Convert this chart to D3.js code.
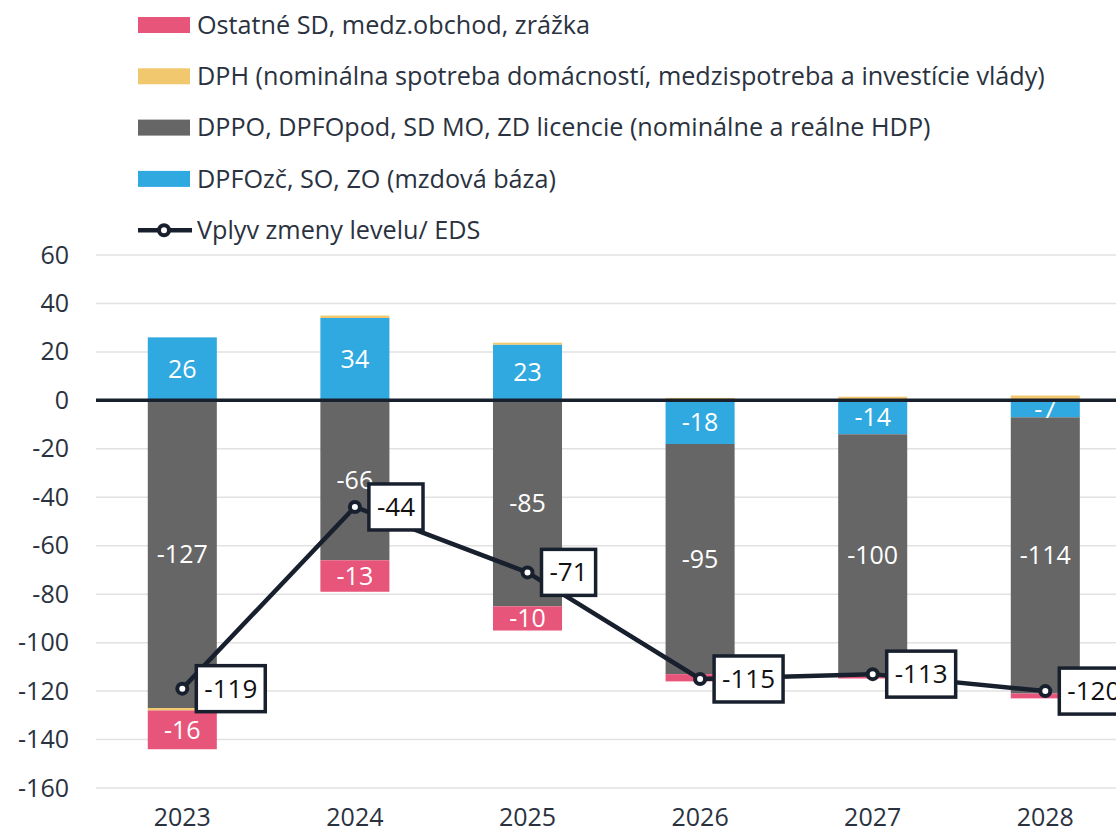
<!DOCTYPE html>
<html>
<head>
<meta charset="utf-8">
<script src="https://cdn.jsdelivr.net/npm/d3@7"></script>
<style>
  body { margin: 0; background: #fff; }
  svg { display: block; font-family: "Open Sans", sans-serif; }
</style>
</head>
<body>
<div id="chart"></div>
<script>
// data
const years = ["2023", "2024", "2025", "2026", "2027", "2028"];
const mzdy = [26, 34, 23, -18, -14, -7];          // DPFOzč, SO, ZO
const hdp = [-127, -66, -85, -95, -100, -114];    // DPPO, DPFOpod, ...
const dph = [-1, 1, 0.8, 1, 1.5, 2];              // DPH
const ostatne = [-16, -13, -10, -3, -0.8, -2];    // Ostatné SD
const eds = [-119, -44, -71, -115, -113, -120];   // Vplyv zmeny levelu/ EDS
const yTicks = [60, 40, 20, 0, -20, -40, -60, -80, -100, -120, -140, -160];

const series = [
  { key: "mzdy", name: "DPFOzč, SO, ZO (mzdová báza)", color: "#2fa9e0", values: mzdy, minLabel: 0 },
  { key: "hdp", name: "DPPO, DPFOpod, SD MO, ZD licencie (nominálne a reálne HDP)", color: "#666666", values: hdp, minLabel: 0 },
  { key: "dph", name: "DPH (nominálna spotreba domácností, medzispotreba a investície vlády)", color: "#f2c86e", values: dph, minLabel: 99 },
  { key: "ost", name: "Ostatné SD, medz.obchod, zrážka", color: "#e8557a", values: ostatne, minLabel: 5 }
];

const W = 1116, H = 838;
const dark = "#18202e";
const textCol = "#2a3240";
const fmt = v => String(Math.round(v)); // plain hyphen, like the original

const svg = d3.select("#chart").append("svg")
  .attr("width", W)
  .attr("height", H);

const x = d3.scaleBand()
  .domain(years)
  .range([96, 1131.6])
  .paddingInner(0.6)
  .paddingOuter(0.3);

const y = d3.scaleLinear()
  .domain([60, -160])
  .range([255, 788]);

// gridlines
svg.append("g")
  .selectAll("line")
  .data(yTicks)
  .join("line")
  .attr("x1", 96).attr("x2", W)
  .attr("y1", d => y(d)).attr("y2", d => y(d))
  .attr("stroke", "#e2e2e2")
  .attr("stroke-width", 1.5);

// y axis labels
const yAxis = svg.append("g")
  .attr("transform", "translate(69,0)")
  .call(d3.axisLeft(y).tickValues(yTicks).tickFormat(fmt).tickSize(0).tickPadding(0));
yAxis.select(".domain").remove();
yAxis.selectAll("text")
  .attr("font-family", "Open Sans, sans-serif")
  .attr("font-size", 25)
  .attr("fill", textCol);

// x axis labels
const xAxis = svg.append("g")
  .attr("transform", "translate(0,808)")
  .call(d3.axisBottom(x).tickSize(0).tickPadding(0));
xAxis.select(".domain").remove();
xAxis.selectAll("text")
  .attr("font-family", "Open Sans, sans-serif")
  .attr("font-size", 25)
  .attr("fill", textCol);

// stacked bars
const table = years.map((yr, i) => {
  const row = { year: yr };
  series.forEach(s => row[s.key] = s.values[i]);
  return row;
});
const stacked = d3.stack()
  .keys(series.map(s => s.key))
  .offset(d3.stackOffsetDiverging)(table);

const layers = svg.append("g")
  .selectAll("g")
  .data(stacked)
  .join("g")
  .attr("fill", (d, i) => series[i].color);

layers.selectAll("rect")
  .data(d => d)
  .join("rect")
  .attr("x", d => x(d.data.year))
  .attr("width", x.bandwidth())
  .attr("y", d => y(Math.max(d[0], d[1])))
  .attr("height", d => Math.abs(y(d[0]) - y(d[1])));

// bar labels
stacked.forEach((layer, i) => {
  const s = series[i];
  svg.append("g")
    .selectAll("text")
    .data(layer.filter(d => Math.abs(d[1] - d[0]) >= s.minLabel && s.minLabel < 99))
    .join("text")
    .attr("x", d => x(d.data.year) + x.bandwidth() / 2)
    .attr("y", d => y((d[0] + d[1]) / 2))
    .attr("dy", "0.35em")
    .attr("text-anchor", "middle")
    .attr("font-size", 25)
    .attr("fill", "#fff")
    .text(d => fmt(d.data[layer.key]));
});

// zero line
svg.append("line")
  .attr("x1", 96).attr("x2", W)
  .attr("y1", y(0)).attr("y2", y(0))
  .attr("stroke", dark)
  .attr("stroke-width", 3.5);

// EDS line
const cx = d => x(d.year) + x.bandwidth() / 2;
const pts = years.map((yr, i) => ({ year: yr, v: eds[i] }));
svg.append("path")
  .datum(pts)
  .attr("fill", "none")
  .attr("stroke", dark)
  .attr("stroke-width", 4.5)
  .attr("stroke-linejoin", "round")
  .attr("d", d3.line().x(cx).y(d => y(d.v)));

svg.append("g")
  .selectAll("circle")
  .data(pts)
  .join("circle")
  .attr("cx", cx)
  .attr("cy", d => y(d.v))
  .attr("r", 5)
  .attr("fill", "#fff")
  .attr("stroke", dark)
  .attr("stroke-width", 4);

// callout labels
const callouts = svg.append("g")
  .selectAll("g")
  .data(pts)
  .join("g")
  .attr("transform", d => `translate(${cx(d) + 14},${y(d.v)})`);
callouts.append("text")
  .attr("x", 8)
  .attr("dy", "0.35em")
  .attr("font-size", 26)
  .attr("fill", "#111")
  .text(d => fmt(d.v));
callouts.insert("rect", "text")
  .attr("x", 0)
  .attr("y", -23)
  .attr("height", 46)
  .attr("width", function () {
    return this.parentNode.querySelector("text").getComputedTextLength() + 16;
  })
  .attr("fill", "#fff")
  .attr("stroke", dark)
  .attr("stroke-width", 3.5);

// legend
const legend = svg.append("g");
const legendItems = series.slice().reverse();
legendItems.forEach((s, i) => {
  const ly = 25 + i * 51.3;
  legend.append("rect")
    .attr("x", 138).attr("y", ly - 8)
    .attr("width", 52).attr("height", 16)
    .attr("fill", s.color);
  legend.append("text")
    .attr("x", 197).attr("y", ly)
    .attr("dy", "0.35em")
    .attr("font-size", 25.2)
    .attr("fill", textCol)
    .text(s.name);
});
const lly = 25 + 4 * 51.3;
legend.append("line")
  .attr("x1", 138).attr("x2", 192)
  .attr("y1", lly).attr("y2", lly)
  .attr("stroke", dark).attr("stroke-width", 4.5);
legend.append("circle")
  .attr("cx", 164).attr("cy", lly).attr("r", 5)
  .attr("fill", "#fff").attr("stroke", dark).attr("stroke-width", 4);
legend.append("text")
  .attr("x", 197).attr("y", lly)
  .attr("dy", "0.35em")
  .attr("font-size", 25.2)
  .attr("fill", textCol)
  .text("Vplyv zmeny levelu/ EDS");
</script>
</body>
</html>
